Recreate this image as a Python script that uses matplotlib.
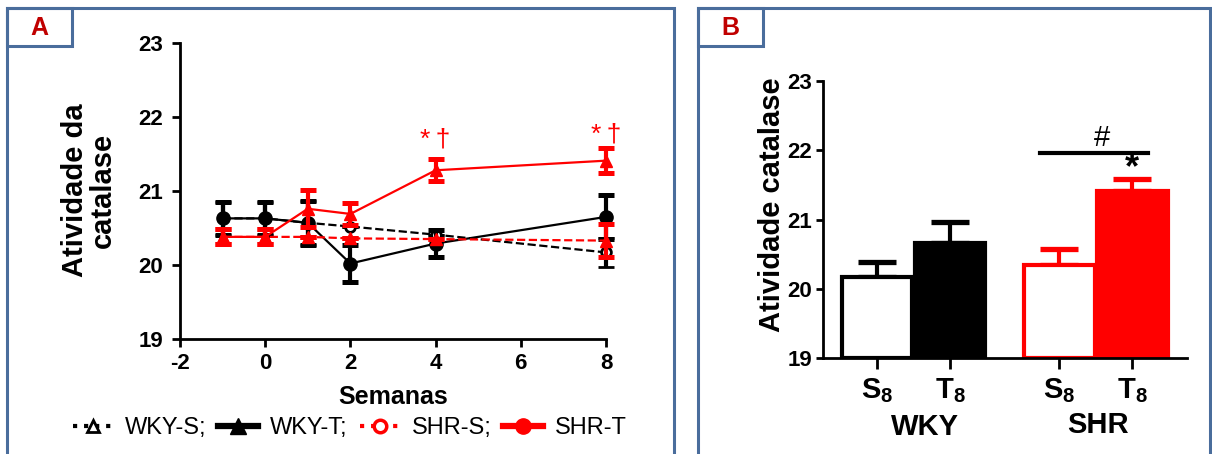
import numpy as np
import matplotlib
matplotlib.use('Agg')
import matplotlib.pyplot as plt
from matplotlib.lines import Line2D
from matplotlib.patches import Rectangle

plt.rcParams['font.family'] = ['Liberation Sans', 'DejaVu Sans']
plt.rcParams['axes.unicode_minus'] = False
plt.rcParams['mathtext.fontset'] = 'custom'
plt.rcParams['mathtext.rm'] = 'Liberation Sans'
plt.rcParams['mathtext.bf'] = 'Liberation Sans:bold'

# ---- data, panel A (catalase activity over weeks)
weeks = [-1, 0, 1, 2, 4, 8]
wky_s = [20.63, 20.63, 20.57, 20.52, 20.41, 20.17]
wky_s_err = [0.22, 0.22, 0.30, 0.0, 0.0, 0.20]
wky_t = [20.63, 20.63, 20.57, 20.02, 20.29, 20.65]
wky_t_err = [0.22, 0.22, 0.30, 0.25, 0.18, 0.30]
shr_s = [20.38, 20.38, 20.38, 20.36, 20.35, 20.33]
shr_s_err = [0.10, 0.10, 0.0, 0.0, 0.0, 0.22]
shr_t = [20.38, 20.38, 20.76, 20.69, 21.28, 21.41]
shr_t_err = [0.10, 0.10, 0.25, 0.15, 0.15, 0.17]
sig_weeks = [4, 8]
sig_y = [21.70, 21.77]

# ---- data, panel B (week 8)
bar_labels = [r'$\mathbf{S}_{\mathbf{8}}$', r'$\mathbf{T}_{\mathbf{8}}$',
              r'$\mathbf{S}_{\mathbf{8}}$', r'$\mathbf{T}_{\mathbf{8}}$']
bar_vals = [20.17, 20.66, 20.34, 21.41]
bar_err = [0.22, 0.30, 0.23, 0.17]
groups = ['WKY', 'SHR']

W, H = 1212, 454
fig = plt.figure(figsize=(W / 100, H / 100), dpi=100)

def px_axes(l, t, r, b):
    return fig.add_axes([l / W, 1 - b / H, (r - l) / W, (b - t) / H])

border = '#4a6d9c'
# panel frames + letter boxes
for (x0, x1, bx1, letter) in [(7, 674, 72, 'A'), (698, 1210, 763, 'B')]:
    fig.patches.append(Rectangle((x0 / W, -0.05), (x1 - x0) / W, 1 - 8 / H + 0.05,
                                 transform=fig.transFigure, fill=False,
                                 edgecolor=border, linewidth=2.2))
    fig.patches.append(Rectangle((x0 / W, 1 - 46 / H), (bx1 - x0) / W, 38 / H,
                                 transform=fig.transFigure, fill=False,
                                 edgecolor=border, linewidth=2.2))
    fig.text((x0 + bx1) / 2 / W, 1 - 28 / H, letter, color='#c00000', fontsize=18,
             fontweight='bold', ha='center', va='center')

def style(ax):
    for s in ['top', 'right']:
        ax.spines[s].set_visible(False)
    for s in ['left', 'bottom']:
        ax.spines[s].set_linewidth(2)
    ax.tick_params(width=2, length=6, labelsize=16, pad=4)
    for lab in ax.get_xticklabels() + ax.get_yticklabels():
        lab.set_fontweight('bold')

# ---------- panel A
axA = px_axes(180, 43, 606, 339)
ekw = dict(elinewidth=3, capsize=6, capthick=3.6, clip_on=False)
axA.errorbar(weeks, wky_s, yerr=wky_s_err, color='black', linestyle='--', linewidth=1.6,
             marker='o', markersize=7, markerfacecolor='white', markeredgewidth=2,
             zorder=1, **ekw)
axA.errorbar(weeks, wky_t, yerr=wky_t_err, color='black', linestyle='-', linewidth=1.6,
             marker='o', markersize=9.5, zorder=2, **ekw)
axA.errorbar(weeks, shr_s, yerr=shr_s_err, color='red', linestyle='--', linewidth=1.6,
             marker='^', markersize=8, zorder=3, **ekw)
axA.errorbar(weeks, shr_t, yerr=shr_t_err, color='red', linestyle='-', linewidth=1.6,
             marker='^', markersize=8.5, zorder=4, **ekw)
for x, y in zip(sig_weeks, sig_y):
    axA.text(x, y, '*\u2009\u2020', color='red', fontsize=19, ha='center', va='center')
axA.set_xlim(-2, 8)
axA.set_ylim(19, 23)
axA.set_xticks([-2, 0, 2, 4, 6, 8])
axA.set_yticks([19, 20, 21, 22, 23])
style(axA)
axA.tick_params(axis='y', pad=6)
fig.text(393 / W, 1 - 397 / H, 'Semanas', fontsize=18, fontweight='bold',
         ha='center', va='center')
fig.text(89 / W, 1 - 190 / H, 'Atividade da\ncatalase', fontsize=21, fontweight='bold',
         rotation=90, ha='center', va='center', multialignment='center', linespacing=1.0)

handles = [
    Line2D([], [], color='black', linestyle=':', linewidth=3, marker='^',
           markerfacecolor='white', markeredgewidth=2, markersize=8),
    Line2D([], [], color='black', linestyle='-', linewidth=4.5, marker='^', markersize=11),
    Line2D([], [], color='red', linestyle=':', linewidth=3, marker='o',
           markerfacecolor='white', markeredgewidth=2.5, markersize=9),
    Line2D([], [], color='red', linestyle='-', linewidth=4.5, marker='o', markersize=11),
]
fig.legend(handles, ['WKY-S;', 'WKY-T;', 'SHR-S;', 'SHR-T'], ncol=4, frameon=False,
           loc='center', bbox_to_anchor=(350 / W, 1 - 428 / H), fontsize=17,
           handlelength=1.7, handletextpad=0.5, columnspacing=0.5, borderpad=0)

# ---------- panel B
axB = px_axes(823, 81, 1187, 358)
pos = [0, 1, 2.5, 3.5]
edges = ['black', 'black', 'red', 'red']
fills = ['white', 'black', 'white', 'red']
for p, v, e, c in zip(pos, bar_vals, bar_err, edges):
    axB.errorbar([p], [v], yerr=[[0], [e]], color=c, elinewidth=3, capsize=14,
                 capthick=3.8, zorder=1)
axB.bar(pos, [v - 19 for v in bar_vals], width=0.97, bottom=19, color=fills,
        edgecolor=edges, linewidth=3, zorder=2)
axB.set_ylim(19, 23)
axB.set_xlim(-0.74, 4.25)
axB.set_yticks([19, 20, 21, 22, 23])
axB.set_xticks(pos)
axB.set_xticklabels(bar_labels)
style(axB)
axB.tick_params(axis='y', length=5, pad=3)
axB.tick_params(axis='x', labelsize=21, length=8, pad=5)
fig.text(772 / W, 1 - 205 / H, 'Atividade catalase', fontsize=21, fontweight='bold',
         rotation=90, ha='center', va='center')
axB.plot([2.23, 3.71], [21.96, 21.96], color='black', linewidth=3, clip_on=False)
axB.text(3.08, 22.17, '#', fontsize=21, ha='center', va='center')
axB.text(3.5, 21.74, '*', fontsize=26, ha='center', va='center', fontweight='bold')
for g, xp, yp in zip(groups, [925, 1098], [427, 425]):
    fig.text(xp / W, 1 - yp / H, g, fontsize=21, fontweight='bold',
             ha='center', va='center')

fig.savefig('out.png', dpi=100)
